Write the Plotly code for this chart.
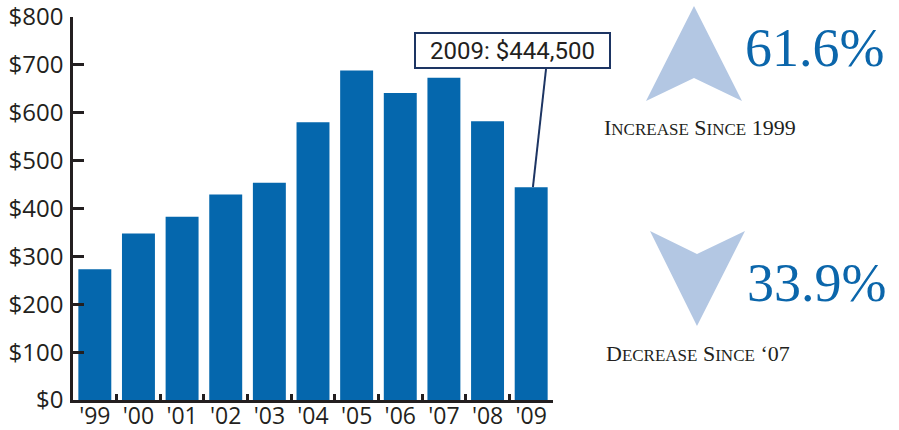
import plotly.graph_objects as go

# ---- data ----
years = ["'99", "'00", "'01", "'02", "'03", "'04", "'05", "'06", "'07", "'08", "'09"]
prices = [273, 348, 383, 429, 454, 580, 688, 641, 673, 582, 444.5]  # $ thousands
y_tickvals = [0, 100, 200, 300, 400, 500, 600, 700, 800]
y_ticktext = ["$0", "$100", "$200", "$300", "$400", "$500", "$600", "$700", "$800"]
callout_text = "2009: $444,500"
increase_pct = "61.6%"
decrease_pct = "33.9%"

W, H = 899, 430
L, R, T, B = 73, 553, 17, 400  # plot area in pixels

def px(x):
    return (x - L) / (R - L)

def py(y):
    return (B - y) / (B - T)

BAR = "#0567ad"
DARK = "#231f20"
NAVY = "#1d3563"
LIGHT = "#b3c7e3"
TXTBLUE = "#0b66ab"

fig = go.Figure(go.Bar(x=years, y=prices, marker=dict(color=BAR, line=dict(width=0)),
                       hoverinfo="skip"))

axis_font = dict(family="Open Sans, sans-serif", size=24, color=DARK)

fig.update_layout(
    width=W, height=H,
    margin=dict(l=L, r=W - R, t=T, b=H - B, autoexpand=False),
    plot_bgcolor="white", paper_bgcolor="white",
    bargap=0.245,
    showlegend=False,
    xaxis=dict(type="category", showline=True, linewidth=2.5, linecolor=DARK,
               ticks="inside", tickson="boundaries", ticklen=6, tickwidth=2.5,
               tickcolor=DARK, tickfont=dict(family="Open Sans, sans-serif", size=23, color=DARK),
               showgrid=False, zeroline=False,
               range=[-0.5, 10.5], automargin=False, ticklabelstandoff=-6,
               ticklabeloverflow="allow"),
    yaxis=dict(range=[0, 800], tickvals=y_tickvals, ticktext=y_ticktext,
               showline=True, linewidth=2.5, linecolor=DARK, ticks="inside",
               ticklen=11, tickwidth=2.5, tickcolor=DARK, tickfont=axis_font,
               showgrid=False, zeroline=False, ticklabelstandoff=2, automargin=False,
               ticklabeloverflow="allow"),
)

# callout line from the last bar to the box
fig.add_shape(type="line", xref="x", yref="y",
              x0=10.04, y0=prices[-1], x1=10.34, y1=800 * py(69),
              line=dict(color=NAVY, width=2))

fig.add_annotation(xref="paper", yref="paper", x=px(512.5), y=py(50.5),
                   xanchor="center", yanchor="middle",
                   text=callout_text, showarrow=False,
                   font=dict(family="Roboto, sans-serif", size=24, color=DARK),
                   bgcolor="white", bordercolor=NAVY, borderwidth=2, borderpad=0,
                   width=193, height=33)

# arrows
def path(points):
    s = "M " + " L ".join(f"{px(x)},{py(y)}" for x, y in points) + " Z"
    return s

fig.add_shape(type="path", xref="paper", yref="paper",
              path=path([(694, 6), (742, 101), (694, 78), (646, 101)]),
              fillcolor=LIGHT, line=dict(width=0))
fig.add_shape(type="path", xref="paper", yref="paper",
              path=path([(650, 231), (697, 254), (745, 231), (697, 326)]),
              fillcolor=LIGHT, line=dict(width=0))

serif = "Liberation Serif, serif"
fig.add_annotation(xref="paper", yref="paper", x=px(814), y=py(48), text=increase_pct,
                   xanchor="center", yanchor="middle",
                   showarrow=False, font=dict(family=serif, size=54, color=TXTBLUE))
fig.add_annotation(xref="paper", yref="paper", x=px(816), y=py(283), text=decrease_pct,
                   xanchor="center", yanchor="middle",
                   showarrow=False, font=dict(family=serif, size=54, color=TXTBLUE))

def smallcaps(words, small=17):
    out = []
    for w in words:
        if w[0].isalpha():
            out.append(w[0] + f"<span style='font-size:{small}px'>{w[1:].upper()}</span>")
        else:
            out.append(w)
    return " ".join(out)

fig.add_annotation(xref="paper", yref="paper", x=px(700), y=py(127),
                   xanchor="center", yanchor="middle",
                   text=smallcaps(["Increase", "Since", "1999"]), showarrow=False,
                   font=dict(family=serif, size=22, color=DARK))
fig.add_annotation(xref="paper", yref="paper", x=px(698), y=py(353),
                   xanchor="center", yanchor="middle",
                   text=smallcaps(["Decrease", "Since", "‘07"]), showarrow=False,
                   font=dict(family=serif, size=22, color=DARK))

fig.write_html("out.html", config={"displayModeBar": False},
               post_script="document.body.style.margin='0';document.body.style.overflow='hidden';")
